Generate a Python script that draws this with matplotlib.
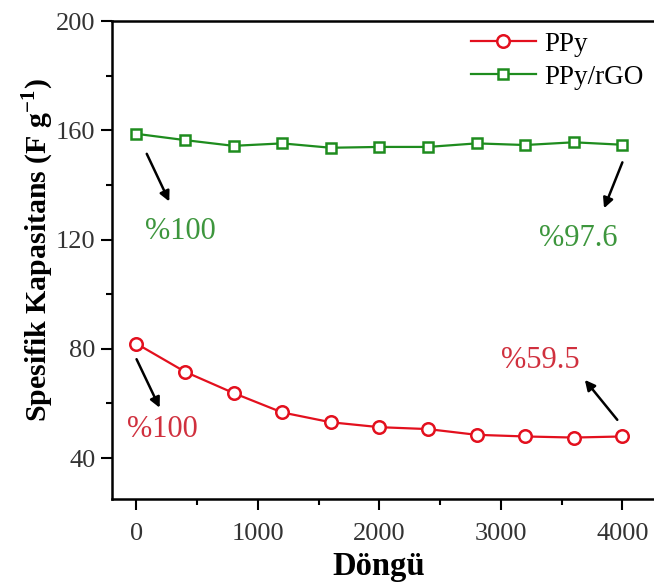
import numpy as np
import matplotlib
matplotlib.use('Agg')
import matplotlib.pyplot as plt
from matplotlib.ticker import MultipleLocator

plt.rcParams['font.family'] = 'Liberation Serif'
plt.rcParams['mathtext.fontset'] = 'custom'
plt.rcParams['mathtext.rm'] = 'Liberation Serif'
plt.rcParams['mathtext.bf'] = 'Liberation Serif:bold'

# cycle numbers
cycles = [0, 400, 800, 1200, 1600, 2000, 2400, 2800, 3200, 3600, 4000]
# specific capacitance (F/g)
ppy = [81.9, 71.6, 63.8, 56.7, 53.1, 51.3, 50.6, 48.5, 47.9, 47.5, 47.9]
ppy_rgo = [158.7, 156.4, 154.3, 155.2, 153.6, 153.9, 153.9, 155.2, 154.6, 155.6, 154.7]

red = '#e3101e'
green = '#1e8c1e'

fig = plt.figure(figsize=(6.54, 5.87), dpi=100)
ax = fig.add_axes([0.1713, 0.1499, 0.836, 0.8143])

ax.plot(cycles, ppy, color=red, lw=1.6, marker='o', ms=9, mfc='white',
        mec=red, mew=1.8, label='PPy')
ax.plot(cycles, ppy_rgo, color=green, lw=1.6, marker='s', ms=7.5, mfc='white',
        mec=green, mew=1.8, label='PPy/rGO')

ax.set_xlim(-200, 4300)
ax.set_ylim(25, 200)
ax.xaxis.set_major_locator(MultipleLocator(1000))
ax.xaxis.set_minor_locator(MultipleLocator(500))
ax.yaxis.set_major_locator(MultipleLocator(40))
ax.yaxis.set_minor_locator(MultipleLocator(20))
ax.set_yticks([40, 80, 120, 160, 200])
ax.tick_params(which='major', direction='out', length=8, width=1.5,
               labelsize=19, pad=4, colors='black', labelcolor='#333333')
ax.tick_params(axis='x', which='major', pad=9)
ax.tick_params(which='minor', direction='out', length=4.5, width=1.5)
ax.tick_params(top=False, right=False, which='both')
for s in ax.spines.values():
    s.set_linewidth(1.8)

ax.set_xlabel('Döngü', fontsize=23.5, fontweight='bold')
ax.xaxis.set_label_coords(0.488, -0.108)
ax.set_ylabel('Spesifik Kapasitans (F g$^{\\mathbf{-1}}$)', fontsize=21.5,
              fontweight='bold')
ax.yaxis.set_label_coords(-0.102, 0.52)

arr = dict(arrowstyle='-|>', color='black', lw=1.8, mutation_scale=15)
# PPy/rGO annotations
ax.annotate('', xy=(281, 133), xytext=(76, 152.3), arrowprops=arr)
ax.annotate('', xy=(3841, 130.5), xytext=(4009, 149.2), arrowprops=arr)
ax.text(365, 122.9, '%100', color='#3d963d', fontsize=22, ha='center', va='center')
ax.text(3636, 120.4, '%97.6', color='#3d963d', fontsize=22, ha='center', va='center')
# PPy annotations
ax.annotate('', xy=(202, 57.5), xytext=(-8, 77.1), arrowprops=arr)
ax.annotate('', xy=(3677, 69.4), xytext=(3973, 53.2), arrowprops=arr)
ax.text(216, 50.6, '%100', color='#d0303e', fontsize=22, ha='center', va='center')
ax.text(3328, 75.6, '%59.5', color='#d0303e', fontsize=22, ha='center', va='center')

ax.legend(loc='upper left', bbox_to_anchor=(0.720, 0.946),
          bbox_transform=fig.transFigure, frameon=False, fontsize=19.5,
          borderpad=0, borderaxespad=0, handlelength=2.4, handletextpad=0.3,
          labelspacing=0.3)

fig.savefig('out.png', dpi=100)
